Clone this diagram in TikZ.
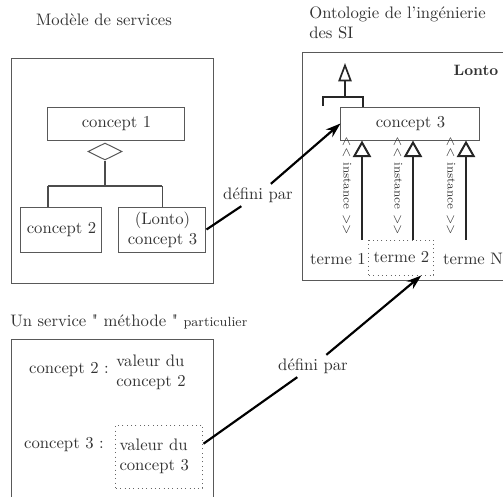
\documentclass[tikz,border=0pt]{standalone}
\usepackage{tikz}
\usetikzlibrary{calc,arrows.meta,shapes.geometric}
\newcommand{\unitpx}{0.6pt}

\begin{document}
\begin{tikzpicture}[
    x=\unitpx, y=-\unitpx,
    % Style des grands cadres et des boites de concepts
    cadre/.style={draw=black!65, line width=0.6pt},
    boite/.style={draw=black!65, line width=0.6pt, inner sep=1pt, text=black!80, align=center},
    % Style pour les boites en pointilles
    pointille/.style={draw=black!60, dotted, line width=0.6pt, inner sep=1pt, text=black!80},
    % Style pour les textes libres
    titre/.style={inner sep=0pt, text=black!80},
    stereo/.style={rotate=-90, font=\scriptsize, inner sep=0pt, text=black!80},
    % Style pour l'agregation (losange)
    losange/.style={diamond, aspect=2, draw=black!65, line width=0.6pt, inner sep=0pt,
        minimum width=34*\unitpx, minimum height=17*\unitpx},
    % Style pour les lignes de liaison
    liaison/.style={draw=black!70, line width=0.8pt},
    heritage/.style={draw=black!85, line width=1pt, -{Triangle[open, length=11pt, width=8pt]}},
    instance/.style={draw=black!85, line width=1.2pt, -{Triangle[open, length=10pt, width=11pt]}},
    fleche/.style={draw=black, line width=1.3pt},
    etiq/.style={inner sep=2pt, text=black!80}
]
\useasboundingbox (0,0) rectangle (503,497);

% Modele de services
\node[titre] (tMod) at (104,20) {Modèle de services};
\node[boite, minimum width=202*\unitpx, minimum height=225*\unitpx] (cadreMod) at (113,170.5) {};
\node[boite, minimum width=137*\unitpx, minimum height=33*\unitpx] (c1) at (116.5,123.5) {concept 1};
\node[losange] (agg) at (105,151.5) {};
\node[boite, minimum width=81*\unitpx, minimum height=45*\unitpx] (c2) at (61.5,229.5) {concept 2};
\node[boite, minimum width=87*\unitpx, minimum height=45*\unitpx] (c3g) at (162.5,229.5) {(Lonto)\\concept 3};
\coordinate (emb) at (105,186);
\coordinate (embG) at (48,186);
\coordinate (embD) at (162.5,186);
\draw[liaison] (agg.south) -- (emb);
\draw[liaison] (embG) -- (embD);
\draw[liaison] (embG) -- (embG |- c2.north);
\draw[liaison] (embD) -- (c3g.north);

% Ontologie de l'ingenierie des SI
\node[titre, anchor=north west, align=left] (tOnto) at (309,6) {Ontologie de l'ingénierie\\des SI};
\draw[cadre] (303,52) rectangle (512,280);
\node[titre, font=\small\bfseries] (lonto) at (476,70) {Lonto};
\node[boite, minimum width=139*\unitpx, minimum height=33*\unitpx] (c3d) at (410.5,123.5) {concept 3};
\coordinate (gM) at (345,97);
\coordinate (gH) at (345,63);
\coordinate (gG) at (323,106);
\coordinate (gD) at (363,97);
\draw[liaison, line width=1.1pt, draw=black!85] (gG) |- (gD) -- (gD |- c3d.north);
\draw[heritage] (gM) -- (gH);

% Termes et liens d'instance
\node[titre] (t1) at (338,259) {terme 1};
\node[pointille, minimum width=65*\unitpx, minimum height=35*\unitpx] (t2) at (401.5,257.5) {terme 2};
\node[titre] (tN) at (473,259) {terme N};
\foreach \x/\n in {362/1,413/2,466/3} {
    \coordinate (b\n) at (\x,240);
    \draw[instance] (b\n) -- (b\n |- c3d.south);
    \node[stereo] (s\n) at (\x-15,186) {\textless\kern0pt\textless\ instance \textgreater\kern0pt\textgreater};
}

% Un service particulier
\node[titre, anchor=west] (tServ) at (10,322) {Un service \textquotedbl\ méthode \textquotedbl\ {\footnotesize particulier}};
\draw[cadre] (12,512) |- (214,339) -- (214,512);
\node[titre] (lc2) at (69,370) {concept 2 :};
\node[titre, anchor=west, align=left] (v2) at (116,372) {valeur du\\concept 2};
\node[titre] (lc3) at (64,445) {concept 3 :};
\node[pointille, minimum width=87*\unitpx, minimum height=63*\unitpx, text width=80*\unitpx, align=left] (v3) at (159.5,456.5) {valeur du\\concept 3};

% Liens "defini par"
\node[etiq] (d1) at (258,195) {défini par};
\draw[fleche] (c3g.east) -- (d1);
\draw[fleche, -{Stealth[length=9pt, width=6pt]}] (d1) -- (c3d.west);
\node[etiq] (d2) at (313,366) {défini par};
\draw[fleche] ($(v3.east)!0.4!(v3.north east)$) -- (d2);
\draw[fleche, -{Stealth[length=9pt, width=6pt]}] (d2) -- ($(t2.south)!0.6!(t2.south east)$);

\end{tikzpicture}
\end{document}
